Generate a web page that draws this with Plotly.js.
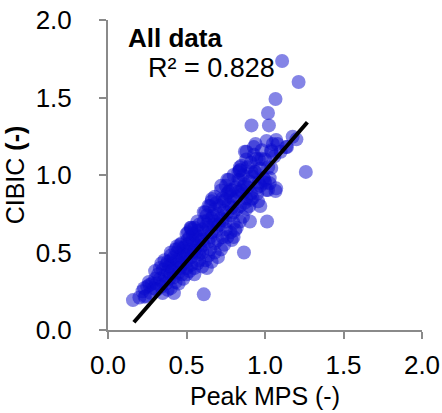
<!DOCTYPE html>
<html>
<head>
<meta charset="utf-8">
<script src="https://cdn.plot.ly/plotly-3.0.1.min.js"></script>
<style>html,body{margin:0;padding:0;background:#fff;}#chart{width:442px;height:413px;}</style>
</head>
<body>
<div id="chart"></div>
<script>
// Peak MPS (x) vs CIBIC (y)
const peakMPS = [
  0.159,0.233,0.264,0.348,0.420,0.610,0.400,0.453,0.505,0.526,
  0.20,0.22,0.24,0.25,0.27,0.28,0.29,0.30,0.26,0.23,
  0.31,0.32,0.33,0.34,0.35,0.36,0.37,0.38,0.39,0.33,0.35,0.37,0.31,0.36,0.38,0.39,
  0.40,0.41,0.42,0.43,0.44,0.45,0.46,0.47,0.48,0.49,0.41,0.43,0.45,0.47,0.48,0.42,0.44,0.46,0.49,0.40,0.50,0.46,
  0.50,0.51,0.52,0.53,0.54,0.55,0.56,0.57,0.58,0.59,0.51,0.53,0.55,0.57,0.58,0.52,0.54,0.56,0.59,0.60,0.55,0.53,0.58,
  0.60,0.61,0.62,0.63,0.64,0.65,0.66,0.67,0.68,0.69,0.61,0.62,0.64,0.65,0.66,0.67,0.68,0.69,0.63,0.70,0.64,0.66,0.70,
  0.71,0.72,0.73,0.74,0.75,0.76,0.77,0.78,0.79,0.80,0.71,0.72,0.74,0.75,0.76,0.78,0.79,0.73,0.77,0.80,
  0.81,0.82,0.83,0.84,0.85,0.86,0.87,0.88,0.89,0.90,0.82,0.84,0.86,0.88,0.83,0.85,0.87,0.89,
  0.91,0.92,0.93,0.94,0.95,0.96,0.97,0.98,0.99,0.91,0.94,0.96,
  1.00,1.02,1.04,1.06,1.08,1.10,1.14,1.03,1.01,
  0.662,0.810,0.788,0.778,0.862,0.830,0.882,0.929,0.977,0.935,1.030,1.040,1.050,1.071,1.134,1.176,1.200,
  0.970,0.904,1.013,1.019,1.067,0.866,
  0.872,0.945,1.040,0.840,0.914,0.840,0.998,1.071,1.008,0.767,0.746,0.910,0.956,
  0.45,0.48,0.50,0.52,0.55,0.57,0.60,0.62,0.64,0.66,0.68,0.70,0.72,0.74,0.70,0.76,0.78,0.80,0.82,0.84,0.86,
  0.80,0.75,0.65,0.58,0.53,0.47,0.43,0.40,0.38,0.55,0.63,0.68,0.73,0.60,0.50,0.88,0.90,0.92,0.95,0.97,1.00,
  0.30,0.34,0.40,0.44,0.50,0.53,0.57,0.61,0.64,0.68,0.72,0.76,0.80,0.84,
  1.109,1.214,1.067,1.019,1.025,0.914,1.260
];
const cibic = [
  0.193,0.215,0.290,0.238,0.238,0.230,0.450,0.527,0.580,0.660,
  0.21,0.25,0.22,0.28,0.24,0.30,0.27,0.33,0.31,0.27,
  0.30,0.36,0.33,0.28,0.39,0.35,0.42,0.38,0.33,0.40,0.31,0.30,0.26,0.45,0.44,0.41,
  0.36,0.43,0.47,0.40,0.50,0.44,0.48,0.42,0.53,0.46,0.38,0.52,0.37,0.56,0.49,0.34,0.45,0.40,0.51,0.48,0.44,0.55,
  0.55,0.49,0.60,0.52,0.62,0.56,0.50,0.64,0.58,0.53,0.63,0.47,0.66,0.54,0.68,0.56,0.58,0.61,0.60,0.65,0.51,0.65,0.49,
  0.58,0.70,0.63,0.74,0.66,0.60,0.72,0.68,0.78,0.64,0.55,0.76,0.71,0.80,0.63,0.74,0.70,0.82,0.68,0.75,0.57,0.83,0.67,
  0.80,0.72,0.85,0.77,0.70,0.88,0.81,0.74,0.90,0.84,0.68,0.90,0.83,0.93,0.76,0.86,0.79,0.71,0.97,0.76,
  0.92,0.86,0.97,0.80,0.90,1.00,0.94,0.85,1.05,0.96,0.78,1.03,0.88,1.10,0.89,1.06,0.82,0.92,
  1.08,0.99,1.13,1.02,0.92,1.10,1.04,1.16,0.98,0.88,1.20,0.95,
  1.10,1.05,1.16,1.12,1.20,1.15,1.18,0.98,1.22,
  0.845,0.645,0.580,0.903,0.925,1.020,1.150,1.180,1.105,1.020,0.946,1.150,1.200,1.226,1.180,1.247,1.230,
  0.800,0.700,0.700,0.903,0.897,0.500,
  1.150,1.105,1.045,1.030,1.020,0.968,0.968,0.914,0.903,0.890,0.840,0.840,0.830,
  0.30,0.33,0.36,0.38,0.40,0.43,0.41,0.45,0.48,0.44,0.50,0.47,0.52,0.55,0.58,0.60,0.63,0.60,0.66,0.70,0.73,
  0.69,0.65,0.52,0.45,0.42,0.36,0.31,0.27,0.26,0.36,0.40,0.56,0.60,0.50,0.40,0.78,0.80,0.85,0.88,0.93,0.95,
  0.38,0.43,0.50,0.54,0.62,0.66,0.70,0.76,0.80,0.86,0.93,0.97,1.00,1.05,
  1.735,1.600,1.490,1.400,1.320,1.320,1.020
];
// Linear fit line end points as drawn
const fitX = [0.165, 1.27];
const fitY = [0.05, 1.34];
const xTickVals = [0, 0.5, 1, 1.5, 2];
const xTickText = ["0.0", "0.5", "1.0", "1.5", "2.0"];
const yTickVals = [0, 0.5, 1, 1.5, 2];
const yTickText = ["0.0", "0.5", "1.0", "1.5", "2.0"];

const FONT = "Liberation Sans, Arial, Helvetica, sans-serif";
const axisCommon = {
  range: [0, 2],
  showgrid: false,
  zeroline: false,
  showline: true,
  linecolor: "#8a8a8a",
  linewidth: 2,
  ticks: "outside",
  ticklen: 7,
  tickwidth: 2,
  tickcolor: "#8a8a8a",
  tickfont: {family: FONT, size: 26, color: "#000"},
  ticklabeloverflow: "allow",
  fixedrange: true
};

const data = [
  {
    x: peakMPS, y: cibic, type: "scatter", mode: "markers",
    marker: {size: 14, color: "rgba(10,10,205,0.5)", line: {width: 0}},
    hoverinfo: "skip", cliponaxis: false
  },
  {
    x: fitX, y: fitY, type: "scatter", mode: "lines",
    line: {color: "#000", width: 4}, hoverinfo: "skip"
  }
];

const layout = {
  width: 442, height: 413,
  margin: {l: 108, r: 20, t: 20, b: 83, autoexpand: false},
  paper_bgcolor: "#fff", plot_bgcolor: "#fff",
  showlegend: false,
  xaxis: Object.assign({}, axisCommon, {
    tickvals: xTickVals, ticktext: xTickText, ticklabelstandoff: 4,
    title: {text: "Peak MPS (-)", font: {family: FONT, size: 25, color: "#000"}, standoff: 8}
  }),
  yaxis: Object.assign({}, axisCommon, {
    tickvals: yTickVals, ticktext: yTickText, ticklabelstandoff: 22,
    title: {text: "CIBIC <b>(-)</b>", font: {family: FONT, size: 25, color: "#000"}, standoff: 4}
  }),
  annotations: [
    {x: 0.112, y: 1.884, xref: "x", yref: "y", xanchor: "left", yanchor: "middle",
     text: "<b>All data</b>", showarrow: false, font: {family: FONT, size: 26, color: "#000"}},
    {x: 0.245, y: 1.69, xref: "x", yref: "y", xanchor: "left", yanchor: "middle",
     text: "R² = 0.828", showarrow: false, font: {family: FONT, size: 27, color: "#000"}}
  ]
};

Plotly.newPlot("chart", data, layout, {displayModeBar: false, staticPlot: true});
</script>
</body>
</html>
